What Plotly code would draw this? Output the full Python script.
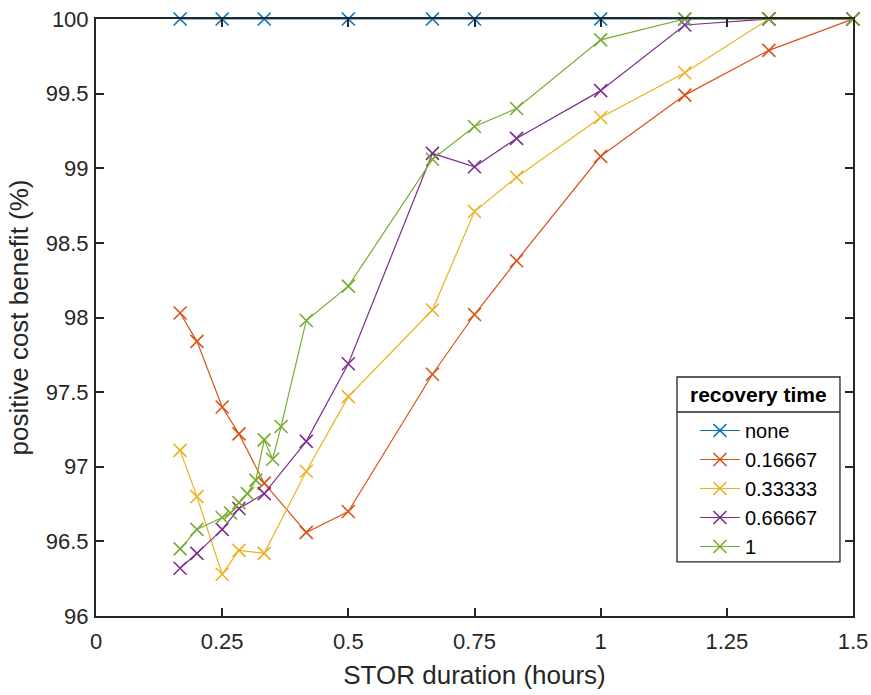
import plotly.graph_objects as go

# STOR duration in minutes for each run, converted to hours below
minutes_none = [10, 15, 20, 30, 40, 45, 60, 70, 80, 90]
minutes_std = [10, 12, 15, 17, 20, 25, 30, 40, 45, 50, 60, 70, 80, 90]
minutes_fine = [10, 12, 15, 16, 17, 18, 19, 20, 21, 22, 25, 30, 40, 45, 50, 60, 70, 80, 90]

# positive cost benefit (%) for each recovery time
benefit_none = [100, 100, 100, 100, 100, 100, 100, 100, 100, 100]
benefit_r016 = [98.03, 97.84, 97.40, 97.22, 96.89, 96.56, 96.70, 97.62, 98.02, 98.38, 99.08, 99.49, 99.79, 100]
benefit_r033 = [97.11, 96.80, 96.28, 96.44, 96.42, 96.97, 97.47, 98.05, 98.71, 98.94, 99.34, 99.64, 100, 100]
benefit_r066 = [96.32, 96.42, 96.58, 96.72, 96.82, 97.17, 97.69, 99.10, 99.01, 99.20, 99.52, 99.96, 100, 100]
benefit_r1 = [96.45, 96.58, 96.66, 96.69, 96.76, 96.82, 96.91, 97.18, 97.05, 97.27, 97.98, 98.21,
              99.06, 99.28, 99.40, 99.86, 100, 100, 100]

series_names = ["none", "0.16667", "0.33333", "0.66667", "1"]
colors = ["#0072BD", "#D95319", "#EDB120", "#7E2F8E", "#77AC30"]
legend_title = "recovery time"

x_ticks = [0, 0.25, 0.5, 0.75, 1, 1.25, 1.5]
x_tick_labels = ["0", "0.25", "0.5", "0.75", "1", "1.25", "1.5"]
y_ticks = [96, 96.5, 97, 97.5, 98, 98.5, 99, 99.5, 100]
y_tick_labels = ["96", "96.5", "97", "97.5", "98", "98.5", "99", "99.5", "100"]


def hours(mins):
    return [m / 60 for m in mins]


series = [
    (hours(minutes_none), benefit_none),
    (hours(minutes_std), benefit_r016),
    (hours(minutes_std), benefit_r033),
    (hours(minutes_std), benefit_r066),
    (hours(minutes_fine), benefit_r1),
]

FONT = "Liberation Sans, Arial, Helvetica, sans-serif"
AXIS = "#262626"

fig = go.Figure()
for (xs, ys), name, col in zip(series, series_names, colors):
    fig.add_trace(go.Scatter(
        x=xs, y=ys, name=name, mode="lines+markers",
        line=dict(color=col, width=1.2),
        marker=dict(symbol="x-thin", size=13, line=dict(color=col, width=1.6)),
        cliponaxis=False,
    ))

axis_common = dict(
    showline=True, linecolor=AXIS, linewidth=2, mirror="ticks",
    ticks="inside", ticklen=8, tickwidth=2, tickcolor=AXIS,
    showgrid=False, zeroline=False, automargin=False,
    tickfont=dict(family=FONT, size=22, color=AXIS),
)

fig.update_xaxes(
    range=[0, 1.5], tickvals=x_ticks, ticktext=x_tick_labels, ticklabelstandoff=5,
    title=dict(text="STOR duration (hours)", font=dict(family=FONT, size=26, color=AXIS), standoff=12),
    **axis_common,
)
fig.update_yaxes(
    range=[96, 100], tickvals=y_ticks, ticktext=y_tick_labels, ticklabelstandoff=1,
    title=dict(text="positive cost benefit (%)", font=dict(family=FONT, size=26, color=AXIS), standoff=10),
    **axis_common,
)

# legend frame (paper coordinates) with a title row above the entries
box_x0, box_x1 = 0.7675, 0.9828
box_y0, box_y1 = 0.0905, 0.4003
sep_y = 0.3417

fig.update_layout(
    width=871, height=695,
    margin=dict(l=96, r=18, t=19, b=79),
    paper_bgcolor="white", plot_bgcolor="white",
    font=dict(family=FONT, color=AXIS),
    legend=dict(
        x=0.7912, y=0.3434, xanchor="left", yanchor="top",
        bgcolor="rgba(0,0,0,0)", borderwidth=0,
        font=dict(family=FONT, size=20, color="black"),
        tracegroupgap=0, itemwidth=40,
    ),
    shapes=[
        dict(type="rect", xref="paper", yref="paper", layer="above",
             x0=box_x0, x1=box_x1, y0=box_y0, y1=box_y1,
             fillcolor="white", line=dict(color=AXIS, width=1.3)),
        dict(type="line", xref="paper", yref="paper", layer="above",
             x0=box_x0, x1=box_x1, y0=sep_y, y1=sep_y,
             line=dict(color=AXIS, width=1.3)),
    ],
    annotations=[dict(
        text="<b>" + legend_title + "</b>", xref="paper", yref="paper",
        x=(box_x0 + box_x1) / 2, y=(box_y1 + sep_y) / 2,
        xanchor="center", yanchor="middle", showarrow=False,
        font=dict(family=FONT, size=21, color="black"),
    )],
)

fig.write_html("out.html")
